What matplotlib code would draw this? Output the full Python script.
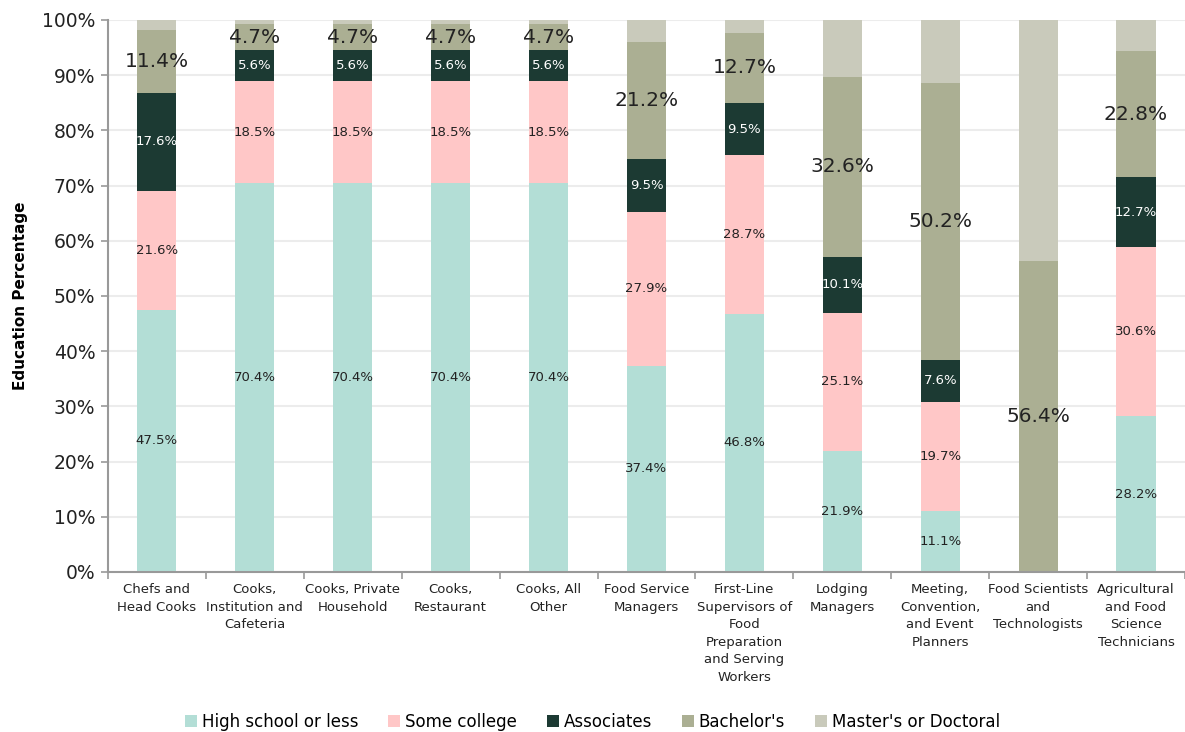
import matplotlib
matplotlib.use("Agg")
import matplotlib.pyplot as plt
import numpy as np

categories = ["Chefs and\nHead Cooks", "Cooks,\nInstitution and\nCafeteria", "Cooks, Private\nHousehold",
              "Cooks,\nRestaurant", "Cooks, All\nOther", "Food Service\nManagers",
              "First-Line\nSupervisors of\nFood\nPreparation\nand Serving\nWorkers", "Lodging\nManagers",
              "Meeting,\nConvention,\nand Event\nPlanners", "Food Scientists\nand\nTechnologists",
              "Agricultural\nand Food\nScience\nTechnicians"]
high_school = [47.5, 70.4, 70.4, 70.4, 70.4, 37.4, 46.8, 21.9, 11.1, 0.0, 28.2]
some_college = [21.6, 18.5, 18.5, 18.5, 18.5, 27.9, 28.7, 25.1, 19.7, 0.0, 30.6]
associates = [17.6, 5.6, 5.6, 5.6, 5.6, 9.5, 9.5, 10.1, 7.6, 0.0, 12.7]
bachelors = [11.4, 4.7, 4.7, 4.7, 4.7, 21.2, 12.7, 32.6, 50.2, 56.4, 22.8]
masters = [1.9, 0.8, 0.8, 0.8, 0.8, 4.0, 2.3, 10.3, 11.4, 43.6, 5.7]
series_names = ["High school or less", "Some college", "Associates", "Bachelor's", "Master's or Doctoral"]
colors = ["#b3ded6", "#ffc7c7", "#1c3a33", "#abaf93", "#c9cabb"]

plt.rcParams['font.family'] = ['DejaVu Sans']
fig = plt.figure(figsize=(11.85, 7.32), dpi=100)
ax = fig.add_axes([0.0911, 0.2186, 0.9089, 0.7541])

series = [high_school, some_college, associates, bachelors, masters]
x = np.arange(len(categories))
bottom = np.zeros(len(categories))
width = 0.4
label_style = [
    dict(size=9.5, color="#222222"),
    dict(size=9.5, color="#222222"),
    dict(size=9.5, color="white"),
    dict(size=14.5, color="#222222"),
    None,
]
for vals, name, col, st in zip(series, series_names, colors, label_style):
    v = np.array(vals)
    ax.bar(x, v, width, bottom=bottom, color=col, label=name, zorder=2)
    if st is not None:
        for xi, b, val in zip(x, bottom, v):
            if val > 0:
                ax.text(xi, b + val / 2, f"{val:.1f}%", ha="center", va="center", zorder=3, **st)
    bottom += v

ax.set_xlim(-0.5, len(categories) - 0.5)
ax.set_ylim(0, 100)
ax.set_yticks(np.arange(0, 101, 10))
ax.set_yticklabels([f"{t}%" for t in range(0, 101, 10)], fontsize=13.5, color="#222222")
ax.yaxis.grid(True, color="#ececec", linewidth=1.5, zorder=0)
ax.set_axisbelow(True)
ax.set_xticks(x)
ax.set_xticklabels(categories, fontsize=9.5, color="#222222", linespacing=1.45)
ax.set_xticks(np.arange(-0.5, len(categories), 1), minor=True)
ax.tick_params(axis="x", which="major", length=0, pad=8)
ax.tick_params(axis="x", which="minor", length=5, color="#999999", width=1.2)
ax.tick_params(axis="y", length=5, color="#999999", width=1.2, pad=4)
for s in ["top", "right"]:
    ax.spines[s].set_visible(False)
for s in ["left", "bottom"]:
    ax.spines[s].set_color("#999999")
    ax.spines[s].set_linewidth(1.5)
ax.set_ylabel("Education Percentage", fontsize=11, fontweight="bold", labelpad=10)

leg = fig.legend(*ax.get_legend_handles_labels(), loc="center", bbox_to_anchor=(0.5, 0.014),
                 ncol=5, frameon=False, fontsize=12, handlelength=0.7, handleheight=0.7,
                 handletextpad=0.3, columnspacing=1.8)
fig.savefig("out.png", dpi=100)
